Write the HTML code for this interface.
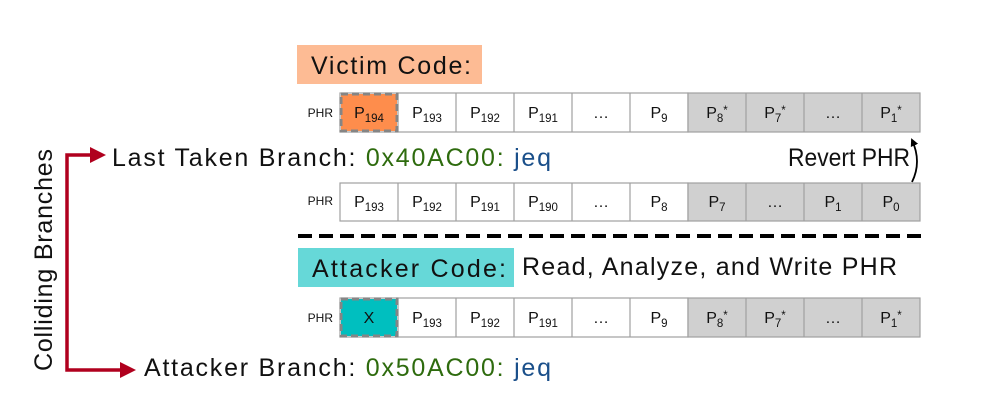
<!DOCTYPE html>
<html><head><meta charset="utf-8"><style>
html,body{margin:0;padding:0;background:#fff;}
svg{display:block;}
text{font-family:"Liberation Sans",sans-serif;}
.c{font-size:16px;text-anchor:middle;fill:#111;}
.s{font-size:11.5px;}
.phr{font-size:12px;fill:#111;text-anchor:end;}
.big{font-size:25px;fill:#111;}
</style></head><body>
<svg width="1000" height="414" viewBox="0 0 1000 414" xmlns="http://www.w3.org/2000/svg">
<defs>
<marker id="ah" markerWidth="8" markerHeight="8" refX="6" refY="4" orient="auto" markerUnits="userSpaceOnUse"><path d="M0,0 L8,4 L0,8 z" fill="#000"/></marker>
</defs>
<rect x="297" y="45" width="185" height="39" fill="#fdbb94"/>
<text x="311" y="74" class="big" textLength="160" lengthAdjust="spacing">Victim Code:</text>

<g stroke="#a0a0a0" stroke-width="1.2">
<rect x="340" y="93" width="348" height="39" fill="#fff"/>
<rect x="688" y="93" width="232" height="39" fill="#d0d0d0"/>
<line x1="398" y1="93" x2="398" y2="132"/><line x1="456" y1="93" x2="456" y2="132"/><line x1="514" y1="93" x2="514" y2="132"/><line x1="572" y1="93" x2="572" y2="132"/><line x1="630" y1="93" x2="630" y2="132"/><line x1="746" y1="93" x2="746" y2="132"/><line x1="804" y1="93" x2="804" y2="132"/><line x1="862" y1="93" x2="862" y2="132"/>
</g>
<rect x="341" y="94" width="56" height="37" fill="#fe8d4c" stroke="#858585" stroke-width="3" stroke-dasharray="7,4"/>
<text x="333" y="117" class="phr">PHR</text>
<text x="369" y="118" class="c">P<tspan class="s" dy="4">194</tspan></text>
<text x="427" y="118" class="c">P<tspan class="s" dy="4">193</tspan></text>
<text x="485" y="118" class="c">P<tspan class="s" dy="4">192</tspan></text>
<text x="543" y="118" class="c">P<tspan class="s" dy="4">191</tspan></text>
<text x="601" y="118" class="c">…</text>
<text x="659" y="118" class="c">P<tspan class="s" dy="4">9</tspan></text>
<text x="717" y="118" class="c">P<tspan class="s" dy="4">8</tspan><tspan class="s" dy="-8">*</tspan></text>
<text x="775" y="118" class="c">P<tspan class="s" dy="4">7</tspan><tspan class="s" dy="-8">*</tspan></text>
<text x="833" y="118" class="c">…</text>
<text x="891" y="118" class="c">P<tspan class="s" dy="4">1</tspan><tspan class="s" dy="-8">*</tspan></text>

<text x="112" y="166" class="big" textLength="439" lengthAdjust="spacing">Last Taken Branch: <tspan fill="#2e6b0e">0x40AC00:</tspan> <tspan fill="#1a4f8a">jeq</tspan></text>
<text x="788" y="166" class="big" font-size="22" textLength="122" lengthAdjust="spacingAndGlyphs">Revert PHR</text>
<path d="M912,182 Q922,162 912,140" fill="none" stroke="#000" stroke-width="1.8" marker-end="url(#ah)"/>

<g stroke="#a0a0a0" stroke-width="1.2">
<rect x="340" y="183" width="348" height="38" fill="#fff"/>
<rect x="688" y="183" width="232" height="38" fill="#d0d0d0"/>
<line x1="398" y1="183" x2="398" y2="221"/><line x1="456" y1="183" x2="456" y2="221"/><line x1="514" y1="183" x2="514" y2="221"/><line x1="572" y1="183" x2="572" y2="221"/><line x1="630" y1="183" x2="630" y2="221"/><line x1="746" y1="183" x2="746" y2="221"/><line x1="804" y1="183" x2="804" y2="221"/><line x1="862" y1="183" x2="862" y2="221"/>
</g>
<text x="333" y="205" class="phr">PHR</text>
<text x="369" y="207" class="c">P<tspan class="s" dy="4">193</tspan></text>
<text x="427" y="207" class="c">P<tspan class="s" dy="4">192</tspan></text>
<text x="485" y="207" class="c">P<tspan class="s" dy="4">191</tspan></text>
<text x="543" y="207" class="c">P<tspan class="s" dy="4">190</tspan></text>
<text x="601" y="207" class="c">…</text>
<text x="659" y="207" class="c">P<tspan class="s" dy="4">8</tspan></text>
<text x="717" y="207" class="c">P<tspan class="s" dy="4">7</tspan></text>
<text x="775" y="207" class="c">…</text>
<text x="833" y="207" class="c">P<tspan class="s" dy="4">1</tspan></text>
<text x="891" y="207" class="c">P<tspan class="s" dy="4">0</tspan></text>

<line x1="298" y1="236" x2="922" y2="236" stroke="#000" stroke-width="4" stroke-dasharray="14,7"/>

<rect x="298" y="248" width="216" height="39" fill="#66d8d8"/>
<text x="312" y="277" class="big" textLength="194" lengthAdjust="spacing">Attacker Code:</text>
<text x="522" y="275" class="big" textLength="375" lengthAdjust="spacing">Read, Analyze, and Write PHR</text>

<g stroke="#a0a0a0" stroke-width="1.2">
<rect x="340" y="298" width="348" height="39" fill="#fff"/>
<rect x="688" y="298" width="232" height="39" fill="#d0d0d0"/>
<line x1="398" y1="298" x2="398" y2="337"/><line x1="456" y1="298" x2="456" y2="337"/><line x1="514" y1="298" x2="514" y2="337"/><line x1="572" y1="298" x2="572" y2="337"/><line x1="630" y1="298" x2="630" y2="337"/><line x1="746" y1="298" x2="746" y2="337"/><line x1="804" y1="298" x2="804" y2="337"/><line x1="862" y1="298" x2="862" y2="337"/>
</g>
<rect x="341" y="299" width="56" height="37" fill="#00bfbf" stroke="#858585" stroke-width="3" stroke-dasharray="7,4"/>
<text x="333" y="322" class="phr">PHR</text>
<text x="369" y="323" class="c">X</text>
<text x="427" y="323" class="c">P<tspan class="s" dy="4">193</tspan></text>
<text x="485" y="323" class="c">P<tspan class="s" dy="4">192</tspan></text>
<text x="543" y="323" class="c">P<tspan class="s" dy="4">191</tspan></text>
<text x="601" y="323" class="c">…</text>
<text x="659" y="323" class="c">P<tspan class="s" dy="4">9</tspan></text>
<text x="717" y="323" class="c">P<tspan class="s" dy="4">8</tspan><tspan class="s" dy="-8">*</tspan></text>
<text x="775" y="323" class="c">P<tspan class="s" dy="4">7</tspan><tspan class="s" dy="-8">*</tspan></text>
<text x="833" y="323" class="c">…</text>
<text x="891" y="323" class="c">P<tspan class="s" dy="4">1</tspan><tspan class="s" dy="-8">*</tspan></text>

<text x="144" y="376" class="big" textLength="407" lengthAdjust="spacing">Attacker Branch: <tspan fill="#2e6b0e">0x50AC00:</tspan> <tspan fill="#1a4f8a">jeq</tspan></text>

<path d="M92,155 L67,155 L67,370 L122,370" fill="none" stroke="#b0001e" stroke-width="3.5"/>
<path d="M90,147 L106,155 L90,163 z" fill="#b0001e"/>
<path d="M120,362 L136,370 L120,378 z" fill="#b0001e"/>

<text transform="translate(52,260) rotate(-90)" text-anchor="middle" class="big" font-size="23" textLength="222" lengthAdjust="spacing">Colliding  Branches</text>
</svg>
</body></html>
